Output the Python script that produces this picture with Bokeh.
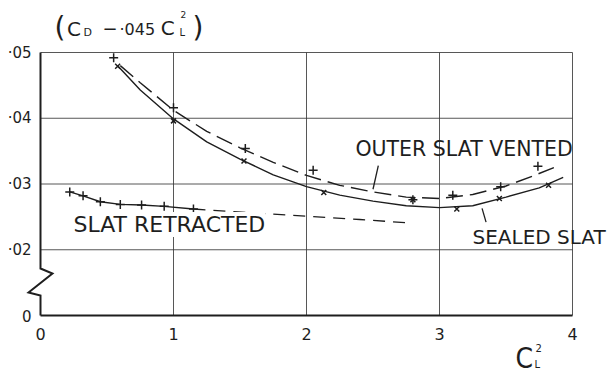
from bokeh.plotting import figure
from bokeh.models import Range1d, Label
from bokeh.embed import file_html
from bokeh.resources import INLINE

# ---- data ----
# sealed slat (x markers, solid curve)
sealed_x = [0.58, 1.00, 1.53, 2.13, 2.80, 3.13, 3.45, 3.82]
sealed_y = [0.0479, 0.0396, 0.0335, 0.0287, 0.0276, 0.0262, 0.0278, 0.0298]
sealed_curve_x = [0.58, 0.75, 1.00, 1.25, 1.50, 1.75, 2.00, 2.25, 2.50, 2.75, 3.00, 3.25, 3.50, 3.75, 3.93]
sealed_curve_y = [0.0480, 0.0443, 0.0399, 0.0364, 0.0338, 0.0314, 0.0296, 0.0283, 0.0274, 0.0267, 0.0264, 0.0267, 0.0280, 0.0294, 0.0310]

# outer slat vented (+ markers, dashed curve)
vented_x = [0.55, 1.00, 1.54, 2.05, 2.80, 3.10, 3.46, 3.74]
vented_y = [0.0492, 0.0416, 0.0354, 0.0321, 0.0276, 0.0283, 0.0296, 0.0327]
vented_curve_x = [0.60, 0.75, 1.00, 1.25, 1.50, 1.75, 2.00, 2.25, 2.50, 2.75, 3.00, 3.25, 3.50, 3.70, 3.86]
vented_curve_y = [0.0480, 0.0454, 0.0412, 0.0380, 0.0355, 0.0333, 0.0313, 0.0298, 0.0288, 0.0280, 0.0278, 0.0284, 0.0297, 0.0312, 0.0325]

# slat retracted (+ markers, solid then dashed extrapolation)
retracted_x = [0.22, 0.32, 0.45, 0.60, 0.76, 0.93, 1.15]
retracted_y = [0.0288, 0.0282, 0.0273, 0.0269, 0.0268, 0.0266, 0.0262]
retracted_ext_x = [1.15, 1.60, 2.00, 2.40, 2.76]
retracted_ext_y = [0.0262, 0.0256, 0.0251, 0.0246, 0.0241]

x_ticks = [0, 1, 2, 3, 4]
x_tick_labels = ["0", "1", "2", "3", "4"]
y_ticks = [0.01, 0.02, 0.03, 0.04, 0.05]
y_tick_labels = ["0", "·02", "·03", "·04", "·05"]

# broken y axis (zig-zag) of the left axis
axis_path_x = [0, 0, 0.09, -0.09, 0, 0]
axis_path_y = [0.05, 0.01715, 0.01639, 0.01350, 0.01304, 0.01]

# leader strokes for the labels
vented_leader_x = [2.54, 2.50]
vented_leader_y = [0.0328, 0.0292]
sealed_leader_x = [3.32, 3.35]
sealed_leader_y = [0.0263, 0.0242]

INK = "#1e1e1e"
FONT = "DejaVu Sans"

W, H = 615, 381
PX_X, PX_Y = 133.0, 6575.0     # pixels per data unit
LEFT_PX, TOP_PX = 40.0, 52.0   # where x=0 and y=0.05 fall on the canvas
x0 = x_ticks[0] - LEFT_PX / PX_X
y1 = y_ticks[-1] + TOP_PX / PX_Y

p = figure(width=W, height=H, output_backend="svg", toolbar_location=None,
           x_range=Range1d(x0, x0 + W / PX_X), y_range=Range1d(y1 - H / PX_Y, y1),
           x_axis_location=None, y_axis_location=None, min_border=0)
p.background_fill_color = "white"
p.border_fill_color = "white"
p.outline_line_color = None
p.grid.visible = False

# grid lines (including top and right borders)
vx = x_ticks[1:]
p.segment(x0=vx, y0=[y_ticks[0]] * len(vx), x1=vx, y1=[y_ticks[-1]] * len(vx),
          line_color="#3a3a3a", line_width=1, line_alpha=0.85)
hy = y_ticks[1:]
p.segment(x0=[x_ticks[0]] * len(hy), y0=hy, x1=[x_ticks[-1]] * len(hy), y1=hy,
          line_color="#3a3a3a", line_width=1, line_alpha=0.85)

# axes
p.line([x_ticks[0], x_ticks[-1]], [y_ticks[0], y_ticks[0]], line_color=INK, line_width=2)
p.line(axis_path_x, axis_path_y, line_color=INK, line_width=2, line_join="miter")

# tick labels
p.text(x=x_ticks, y=[y_ticks[0] - 18 / PX_Y] * len(x_ticks), text=x_tick_labels,
       text_font={"value": FONT}, text_font_size="16px", text_color=INK,
       text_align="center", text_baseline="middle")
p.text(x=[x_ticks[0] - 9 / PX_X] * len(y_ticks), y=y_ticks, text=y_tick_labels,
       text_font={"value": FONT}, text_font_size="15px", text_color=INK,
       text_align="right", text_baseline="middle")

# curves
p.line(sealed_curve_x, sealed_curve_y, line_color=INK, line_width=1.4)
p.line(vented_curve_x, vented_curve_y, line_color=INK, line_width=1.4, line_dash="17 7")
p.line(retracted_x, retracted_y, line_color=INK, line_width=1.4)
p.line(retracted_ext_x, retracted_ext_y, line_color=INK, line_width=1.3, line_dash="12 8")

# markers
p.scatter(sealed_x, sealed_y, marker="x", size=7, line_color=INK, line_width=1.5)
p.scatter(vented_x, vented_y, marker="cross", size=9, line_color=INK, line_width=1.5)
p.scatter(retracted_x, retracted_y, marker="cross", size=9, line_color=INK, line_width=1.5)

# leaders
p.line(vented_leader_x, vented_leader_y, line_color=INK, line_width=1.3)
p.line(sealed_leader_x, sealed_leader_y, line_color=INK, line_width=1.3)

def lab(x, y, text, size, bg=None, font=FONT):
    kw = dict(x=x, y=y, text=text, text_font=font, text_font_size=size, text_color=INK,
              text_align="left", text_baseline="middle")
    if bg:
        kw.update(background_fill_color=bg)
    p.add_layout(Label(**kw))

# series labels
lab(2.368, 0.03525, "OUTER SLAT VENTED", "20.5px")
lab(3.248, 0.02201, "SEALED SLAT", "20px")
lab(0.248, 0.02384, "SLAT RETRACTED", "22px", bg="white")

# title: ( C_D − ·045 C_L² )
lab(0.105, 0.0538, "(", "28px")
lab(0.200, 0.0535, "C", "20px")
lab(0.323, 0.0530, "D", "11px")
lab(0.466, 0.0537, "−", "18px")
lab(0.594, 0.0535, "·045", "16px")
lab(0.905, 0.0538, "C", "20px")
lab(1.053, 0.0558, "2", "9px")
lab(1.045, 0.0530, "L", "10px")
lab(1.143, 0.0538, ")", "28px")

# x axis label: C_L²
lab(3.571, 0.00340, "C", "28px", font="DejaVu Sans Condensed")
lab(3.722, 0.00500, "2", "10px")
lab(3.715, 0.00250, "L", "10px")

open("out.html", "w").write(file_html(p, INLINE))
